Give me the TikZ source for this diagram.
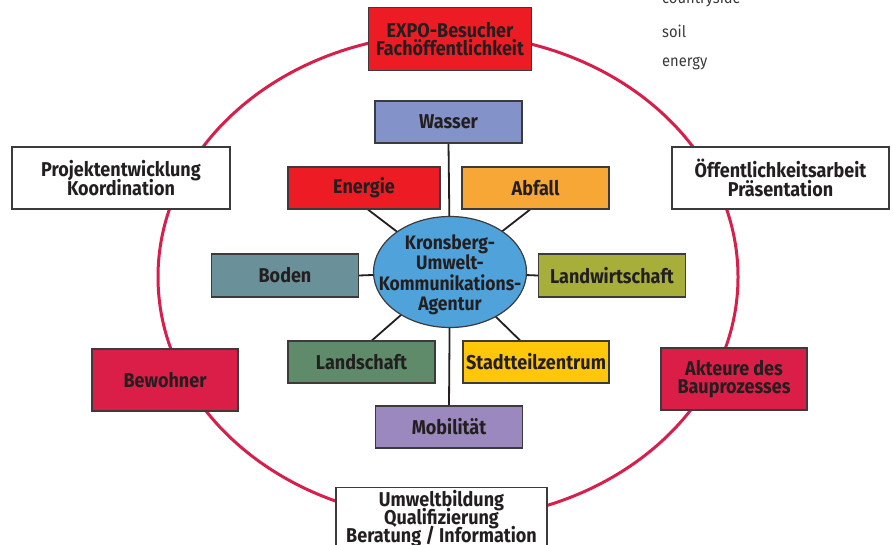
\documentclass[tikz,border=0pt]{standalone}
\usepackage{fontspec}
\setmainfont{Fira Sans}[FakeStretch=0.9]
\newfontfamily\notefont{Fira Sans}[FakeStretch=0.92]
\usetikzlibrary{shapes.geometric,backgrounds}
\newcommand\tightls{\lineskiplimit-20pt\relax}
\definecolor{ringc}{HTML}{D81E4B}
\definecolor{boxline}{HTML}{3C3A3B}
\definecolor{textc}{HTML}{231F20}
\definecolor{expoc}{HTML}{ED1C24}
\definecolor{crimsonc}{HTML}{DB1E48}
\definecolor{wasserc}{HTML}{8392C8}
\definecolor{energiec}{HTML}{ED1C24}
\definecolor{abfallc}{HTML}{F6A735}
\definecolor{bodenc}{HTML}{6A909A}
\definecolor{landwc}{HTML}{A7AE3A}
\definecolor{landschc}{HTML}{5F8B6B}
\definecolor{stadtc}{HTML}{FFC70A}
\definecolor{mobilc}{HTML}{9B88BF}
\definecolor{kukac}{HTML}{4FA2DA}
\definecolor{notec}{HTML}{3A3A3A}
\begin{document}
\begin{tikzpicture}[x=1pt,y=-1pt,
  font=\bfseries\fontsize{20}{18.5}\selectfont\tightls,
  box/.style={draw=boxline, line width=1.2pt, inner sep=0pt, align=center, text=textc},
  inner/.style={box, minimum width=147, minimum height=42},
  conn/.style={draw=textc, line width=1.8pt},
  ring/.style={draw=ringc, line width=3pt},
  note/.style={anchor=west, inner sep=0pt, text=notec, font=\notefont\fontsize{16}{16}\selectfont}]
\clip (0,0) rectangle (893,545);
% centre
\node[ellipse, draw=boxline, line width=1.2pt, fill=kukac, inner sep=0pt,
      minimum width=153, minimum height=111] (kuka) at (450,272) {};
\node[align=center, text=textc, inner sep=0pt,
      font=\bfseries\fontsize{19.5}{20.5}\selectfont\tightls] (kukatext) at (450,275)
  {Kronsberg-\\Umwelt-\\Kommunikations-\\Agentur};
% inner boxes
\node[inner, fill=wasserc] (wasser) at (448.5,122) {Wasser};
\node[inner, fill=energiec, minimum width=152] (energie) at (364,188) {Energie};
\node[inner, fill=abfallc] (abfall) at (535.5,188) {Abfall};
\node[inner, fill=bodenc, minimum height=43] (boden) at (285,275.5) {Boden};
\node[inner, fill=landwc, minimum height=43] (landw) at (612,275.5) {Landwirtschaft};
\node[inner, fill=landschc] (landsch) at (361.5,362) {Landschaft};
\node[inner, fill=stadtc, minimum width=146] (stadt) at (536,362) {Stadtteilzentrum};
\node[inner, fill=mobilc] (mobil) at (449,427) {Mobilität};
% outer boxes
\node[box, fill=expoc, minimum width=163, minimum height=63] (expo) at (450,39)
  {EXPO-Besucher\\Fachöffentlichkeit};
\node[box, fill=white, minimum width=218, minimum height=62] (projekt) at (121,178)
  {Projektentwicklung\\Koordination};
\node[box, fill=white, minimum width=217, minimum height=62] (oeff) at (780.5,178)
  {Öffentlichkeitsarbeit\\Präsentation};
\node[box, fill=crimsonc, minimum width=146, minimum height=62] (bewohner) at (165,380)
  {Bewohner};
\node[box, fill=crimsonc, minimum width=146, minimum height=62] (akteure) at (734,379)
  {Akteure des\\Bauprozesses};
\node[box, fill=white, minimum width=211, inner ysep=3pt, anchor=north,
      font=\bfseries\fontsize{20}{18}\selectfont\tightls] (umwelt) at (441.5,487)
  {Umweltbildung\\Qualifizierung\\Beratung / Information};
% notes
\node[note] (n1) at (662,-1) {countryside};
\node[note] (n2) at (662,31) {soil};
\node[note] (n3) at (662,64) {energy};
% connectors and ring behind
\begin{scope}[on background layer]
  \draw[ring] (448,277) ellipse [x radius=290, y radius=243];
  \draw[conn] (kuka.center) -- (wasser.south);
  \draw[conn] (kuka.center) -- (mobil.north);
  \draw[conn] (kuka.center) -- (boden.east);
  \draw[conn] (kuka.center) -- (landw.west);
  \draw[conn] (kuka.center) -- ([xshift=4pt]energie.south);
  \draw[conn] (kuka.center) -- ([xshift=-5.5pt]abfall.south);
  \draw[conn] (kuka.center) -- ([xshift=10.5pt]landsch.north);
  \draw[conn] (kuka.center) -- ([xshift=-16pt]stadt.north);
\end{scope}
\end{tikzpicture}
\end{document}
